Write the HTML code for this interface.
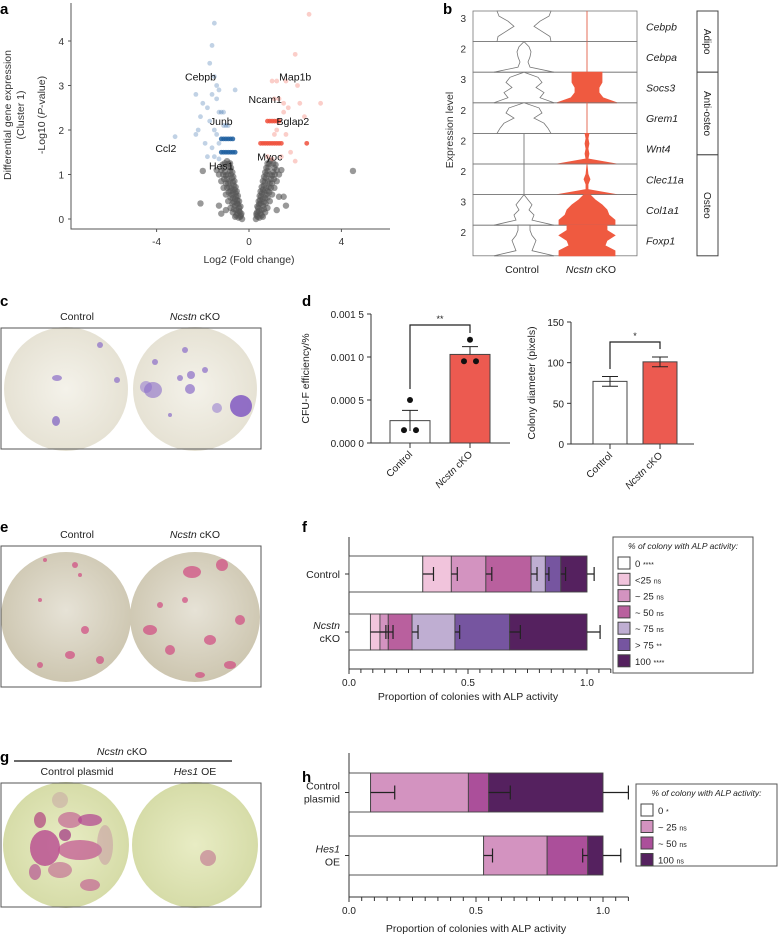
<!DOCTYPE html>
<html><head><meta charset="utf-8"><style>
html,body{margin:0;padding:0;background:#fff}
svg{display:block;font-family:"Liberation Sans",Arial,sans-serif}
</style></head><body>
<svg id="fig" width="778" height="940" viewBox="0 0 778 940" xmlns="http://www.w3.org/2000/svg">
<defs>
<radialGradient id="gc" cx="50%" cy="50%" r="50%"><stop offset="0" stop-color="#f4f2ea"/><stop offset="1" stop-color="#e6e2d4"/></radialGradient>
<radialGradient id="ge" cx="50%" cy="45%" r="55%"><stop offset="0" stop-color="#e6e2d6"/><stop offset="1" stop-color="#cdc6b0"/></radialGradient>
<radialGradient id="gg" cx="50%" cy="50%" r="50%"><stop offset="0" stop-color="#e8ecc4"/><stop offset="1" stop-color="#d6dca8"/></radialGradient>
</defs>
<g id="pa"></g>
<g id="pb"></g>
<g id="pc"></g>
<g id="pd"></g>
<g id="pe"></g>
<g id="pf"></g>
<g id="pg"></g>
<g id="ph"></g>
</svg>
<script>
// ---------- Panel a data ----------
const grayPts=[[-0.3,0],[-0.35,0.08],[-0.4,0.16],[-0.42,0.25],[-0.47,0.33],[-0.5,0.42],[-0.55,0.5],[-0.58,0.58],[-0.62,0.66],[-0.66,0.75],[-0.7,0.83],[-0.74,0.92],[-0.78,1.0],[-0.82,1.08],[-0.86,1.16],[-0.9,1.24],[-0.95,1.3],
[-0.45,0.03],[-0.5,0.12],[-0.56,0.2],[-0.6,0.3],[-0.66,0.38],[-0.7,0.47],[-0.75,0.55],[-0.8,0.63],[-0.85,0.72],[-0.9,0.8],[-0.95,0.9],[-1.0,0.98],[-1.05,1.06],[-1.1,1.15],[-1.15,1.22],
[-0.6,0.05],[-0.7,0.15],[-0.8,0.25],[-0.9,0.4],[-1.0,0.55],[-1.1,0.7],[-1.2,0.85],[-1.3,1.0],[-1.4,1.1],[-0.38,0.05],[-0.44,0.18],[-0.52,0.35],[-0.6,0.45],[-0.68,0.6],[-0.76,0.7],[-0.84,0.85],[-0.92,1.0],
[-0.33,0.12],[-0.37,0.28],[-0.43,0.4],[-0.48,0.52],[-0.53,0.62],[-0.58,0.72],[-0.63,0.85],[-0.68,0.95],[-0.72,1.05],[-0.78,1.15],[-0.82,1.25],[-0.55,0.08],[-0.65,0.22],[-0.72,0.35],[-0.8,0.48],[-0.88,0.6],[-0.95,0.7],[-1.0,0.8],[-1.08,0.9],[-1.12,1.0],[-1.2,1.1],[-1.05,1.25],
[-2.0,1.08],[-2.1,0.35],[-1.3,0.3],[-1.2,0.12],[-1.0,0.2],
[0.3,0],[0.33,0.08],[0.36,0.16],[0.4,0.25],[0.44,0.33],[0.48,0.42],[0.52,0.5],[0.56,0.58],[0.6,0.66],[0.64,0.75],[0.68,0.83],[0.72,0.92],[0.76,1.0],[0.8,1.08],[0.84,1.16],[0.88,1.24],[0.92,1.3],
[0.45,0.03],[0.5,0.12],[0.55,0.2],[0.6,0.3],[0.65,0.38],[0.7,0.47],[0.75,0.55],[0.8,0.63],[0.85,0.72],[0.9,0.8],[0.95,0.9],[1.0,0.98],[1.05,1.06],[1.1,1.15],[1.15,1.22],
[0.6,0.05],[0.7,0.15],[0.8,0.25],[0.9,0.4],[1.0,0.55],[1.1,0.7],[1.2,0.85],[1.3,1.0],[1.4,1.1],[0.38,0.05],[0.43,0.18],[0.5,0.35],[0.58,0.45],[0.66,0.6],[0.74,0.7],[0.82,0.85],[0.9,1.0],
[0.32,0.12],[0.36,0.28],[0.42,0.4],[0.46,0.52],[0.5,0.62],[0.55,0.72],[0.6,0.85],[0.65,0.95],[0.7,1.05],[0.75,1.15],[0.8,1.25],[0.55,0.08],[0.65,0.22],[0.72,0.35],[0.8,0.48],[0.88,0.6],[0.95,0.7],[1.0,0.8],[1.08,0.9],[1.12,1.0],[1.2,1.1],[1.05,1.25],
[1.3,0.5],[1.5,0.5],[1.6,0.3],[1.2,0.2],[4.5,1.08]];
const bluePts=[[-1.2,1.5],[-1.1,1.5],[-1.0,1.5],[-0.9,1.5],[-0.8,1.5],[-0.7,1.5],[-0.6,1.5],[-1.2,1.8],[-1.1,1.8],[-1.0,1.8],[-0.9,1.8],[-0.8,1.8],[-0.7,1.8],[-1.1,2.1],[-1.0,2.1],[-0.9,2.1],[-1.3,2.4],[-1.2,2.4],[-1.1,2.4],
[-1.5,4.4],[-1.6,3.9],[-1.7,3.5],[-1.5,3.2],[-1.4,3.0],[-1.3,2.9],[-1.6,2.8],[-1.4,2.7],[-2.3,2.8],[-2.0,2.6],[-1.8,2.5],[-2.1,2.3],[-1.7,2.2],[-2.2,2.0],[-2.3,1.9],[-1.9,1.7],[-1.6,1.6],[-1.5,1.4],[-1.8,1.4],[-1.3,1.35],[-0.6,2.9],[-1.5,2.0],[-1.4,1.9],[-1.3,1.7],[-3.2,1.85]];
const redPts=[[0.5,1.7],[0.6,1.7],[0.7,1.7],[0.8,1.7],[0.9,1.7],[1.0,1.7],[1.1,1.7],[1.2,1.7],[1.3,1.7],[1.4,1.7],[0.8,2.2],[0.9,2.2],[1.0,2.2],[1.1,2.2],[1.2,2.2],[1.3,2.2],[1.2,2.0],[1.1,1.9],
[2.6,4.6],[2.0,3.7],[1.0,3.1],[1.2,3.1],[1.6,3.1],[2.1,3.0],[1.1,2.7],[1.3,2.7],[1.5,2.6],[2.2,2.6],[3.1,2.6],[1.7,2.5],[1.5,2.4],[2.4,2.3],[1.6,1.9],[2.5,1.7],[1.8,1.5],[1.4,1.4],[1.0,1.35],[0.8,1.4],[2.0,1.3]];
const volcanoLabels=[["Cebpb",-2.1,3.2],["Map1b",2.0,3.2],["Ncam1",0.7,2.7],["Junb",-1.2,2.2],["Bglap2",1.9,2.2],["Ccl2",-3.6,1.6],["Myoc",0.9,1.4],["Hes1",-1.2,1.2]];
const volXTicks=[-4,0,4];
const volYTicks=[0,1,2,3,4];
// ---------- Panel b data ----------
const violinGenes=["Cebpb","Cebpa","Socs3","Grem1","Wnt4","Clec11a","Col1a1","Foxp1"];
const violinYLabels=["3","2","3","2","2","2","3","2"];
const ctrlProfiles=[[27,26,18,10,16,25,27],[30,6,4,6,7,5,0],[30,16,20,12,18,14,0],[27,24,20,10,18,15,0],[0,0,0,0,0,0,0],[0,0,0,0,0,0,0],[30,8,10,5,8,4,0],[30,8,10,12,8,6,6]];
const kdProfiles=[[0,0,0,0,0,0,0],[0,0,0,0,0,0,0],[30,16,12,12,15,15,15],[0,0,0,0,0,0,0],[30,1,2,1,2,1,2],[30,1,1,3,1,0.5,0],[28,28,22,20,15,8,3],[28,28,18,20,28,20,20]];
const violinGroups=[["Adipo",0,2],["Anti-osteo",2,4.7],["Osteo",4.7,8]];
// ---------- Panel d data ----------
const dCats=["Control","Ncstn cKO"];
const cfuMeans=[0.00026,0.00103];
const cfuErr=[0.00012,0.00009];
const cfuPts=[[0.00015,0.00015,0.0005],[0.00095,0.00095,0.0012]];
const cfuTicks=[0,0.0005,0.001,0.0015];
const cfuTickLabels=["0.000 0","0.000 5","0.001 0","0.001 5"];
const diamMeans=[77,101];
const diamErr=[6,6];
const diamTicks=[0,50,100,150];
// ---------- Panel f data ----------
const fRows=["Control","Ncstn cKO"];
const fCum=[[0.31,0.43,0.575,0.765,0.825,0.89,1.0],[0.09,0.13,0.165,0.265,0.445,0.675,1.0]];
const fErr=[[0.355,0.455,0.6,0.79,0.84,0.91,1.03],[0.155,0.165,0.185,0.29,0.465,0.72,1.055]];
const fCats=["0","<25","~ 25","~ 50","~ 75","> 75","100"];
const fSig=["****","ns","ns","ns","ns","**","****"];
const fColors=["#ffffff","#f1c4dc","#d393c0","#b9609e","#bfaed2","#7655a0","#55215f"];
// ---------- Panel h data ----------
const hRows=["Control plasmid","Hes1 OE"];
const hCum=[[0.085,0.47,0.55,1.0],[0.53,0.78,0.94,1.0]];
const hErr=[[0.18,0.47,0.635,1.1],[0.565,0.78,0.92,1.07]];
const hCats=["0","~ 25","~ 50","100"];
const hSig=["*","ns","ns","ns"];
const hColors=["#ffffff","#d393c0","#ab4f9a","#55215f"];
const xTicksProp=[0,0.5,1.0];

const NS="http://www.w3.org/2000/svg";
function mk(p,t,a,txt){const e=document.createElementNS(NS,t);for(const k in a)e.setAttribute(k,a[k]);if(txt!==undefined)e.textContent=txt;p.appendChild(e);return e;}
const G=id=>document.getElementById(id);
function lbl(p,ch,x,y){const t=mk(p,'text',{x:x,y:y,'font-size':15,'font-weight':'bold'},ch);

}

// ===== Panel a =====
(function(){const p=G('pa');lbl(p,'a',0,14);
const xS=v=>249+v*23.1, yS=v=>219-v*44.5;
const ax=mk(p,'path',{d:'M71,3V229H390',stroke:'#555',fill:'none','stroke-width':1});


volXTicks.forEach(v=>{mk(p,'line',{x1:xS(v),x2:xS(v),y1:229,y2:232,stroke:'#555'});
const t=mk(p,'text',{x:xS(v),y:245,'font-size':10,'text-anchor':'middle',fill:'#333'},v);

});
volYTicks.forEach(v=>{mk(p,'line',{x1:68,x2:71,y1:yS(v),y2:yS(v),stroke:'#555'});
const t=mk(p,'text',{x:64,y:yS(v)+4,'font-size':10,'text-anchor':'end',fill:'#333'},v);

});
grayPts.forEach(q=>{const c=mk(p,'circle',{cx:xS(q[0]),cy:yS(q[1]),r:3.2,fill:'#555','fill-opacity':0.6});

});
bluePts.forEach(q=>{const c=mk(p,'circle',{cx:xS(q[0]),cy:yS(q[1]),r:2.4,fill:'#1f5fa0','fill-opacity':q[1]===1.5||q[1]===1.8?0.85:0.28});

});
redPts.forEach(q=>{const c=mk(p,'circle',{cx:xS(q[0]),cy:yS(q[1]),r:2.4,fill:'#f0503c','fill-opacity':q[1]===1.7||q[1]===2.2?0.85:0.28});

});
volcanoLabels.forEach(l=>{const t=mk(p,'text',{x:xS(l[1]),y:yS(l[2])+4,'font-size':10.5,'text-anchor':'middle',fill:'#111'},l[0]);

});
let t=mk(p,'text',{x:249,y:263,'font-size':10.5,'text-anchor':'middle',fill:'#333'},'Log2 (Fold change)');


t=mk(p,'text',{transform:'translate(11,115) rotate(-90)','font-size':10.5,'text-anchor':'middle',fill:'#333'},'Differential gene expression');


t=mk(p,'text',{transform:'translate(24,115) rotate(-90)','font-size':10.5,'text-anchor':'middle',fill:'#333'},'(Cluster 1)');


t=mk(p,'text',{transform:'translate(45,115) rotate(-90)','font-size':10.5,'text-anchor':'middle',fill:'#333'});
t.innerHTML='-Log10 (<tspan font-style="italic">P</tspan>-value)';


})();

// ===== Panel b =====
(function(){const p=G('pb');lbl(p,'b',443,14);
const top=11,rh=30.6,x0=473,x1=637,cx=[524,587];
violinGenes.forEach((g,i)=>{const y0=top+i*rh,yb=y0+rh;
mk(p,'rect',{x:x0,y:y0,width:x1-x0,height:rh,fill:'none',stroke:'#777','stroke-width':0.8});
[[ctrlProfiles[i],cx[0],'#fff','#777'],[kdProfiles[i],cx[1],'#ef5a40','#ef5a40']].forEach(([prof,c,f,s])=>{
const n=prof.length;let r='',l='';
prof.forEach((w,k)=>{const y=yb-k*(rh/(n-1));r+=(k?'L':'M')+(c+w)+','+y;l='L'+(c-w)+','+y+l;});
mk(p,'line',{x1:c,x2:c,y1:y0,y2:yb,stroke:'#999','stroke-width':0.6});
const v=mk(p,'path',{d:r+l+'Z',fill:f,stroke:s,'stroke-width':0.8});

});
let t=mk(p,'text',{x:466,y:y0+11,'font-size':10,'text-anchor':'end',fill:'#333'},violinYLabels[i]);


t=mk(p,'text',{x:646,y:y0+rh/2+4,'font-size':10.5,'font-style':'italic',fill:'#222'},g);

});
violinGroups.forEach(gr=>{const ya=top+gr[1]*rh,yb=top+gr[2]*rh;
mk(p,'rect',{x:697,y:ya,width:21,height:yb-ya,fill:'#fff',stroke:'#444','stroke-width':1});
const t=mk(p,'text',{transform:`translate(704,${(ya+yb)/2}) rotate(90)`,'font-size':10,'text-anchor':'middle',fill:'#222'},gr[0]);

});
let t=mk(p,'text',{transform:'translate(453,130) rotate(-90)','font-size':10.5,'text-anchor':'middle',fill:'#333'},'Expression level');


t=mk(p,'text',{x:522,y:273,'font-size':10.5,'text-anchor':'middle',fill:'#222'},'Control');


t=mk(p,'text',{x:591,y:273,'font-size':10.5,'text-anchor':'middle',fill:'#222'});t.innerHTML='<tspan font-style="italic">Ncstn</tspan> cKO';


})();

// ===== Photo panels =====
function photo(pid,ch,labY,boxY,boxH,circY,r,grad,t1,t2,spots){const p=G(pid);lbl(p,ch,0,labY);
let t=mk(p,'text',{x:77,y:boxY-8,'font-size':10.5,'text-anchor':'middle',fill:'#222'});t.innerHTML=t1;


t=mk(p,'text',{x:195,y:boxY-8,'font-size':10.5,'text-anchor':'middle',fill:'#222'});t.innerHTML=t2;


const b=mk(p,'rect',{x:1,y:boxY,width:260,height:boxH,fill:'#fff',stroke:'#555','stroke-width':1});


[66,195].forEach(cx=>{const c=mk(p,'circle',{cx:cx,cy:circY,r:r,fill:`url(#${grad})`});

});
spots.forEach(s=>{mk(p,'ellipse',{cx:s[0],cy:s[1],rx:s[2],ry:s[3]||s[2],fill:s[4],'fill-opacity':s[5]||0.7});});
mk(p,'rect',{x:1,y:boxY,width:260,height:boxH,fill:'none',stroke:'#555','stroke-width':1});}
photo('pc','c',306,328,121,389,62,'gc','Control','<tspan font-style="italic">Ncstn</tspan> cKO',
[[100,345,3,3,'#8a6cc8'],[57,378,5,3,'#8a6cc8'],[117,380,3,3,'#8a6cc8'],[56,421,4,5,'#7a5cc0'],[146,387,6,6,'#9a80d0',0.6],[153,390,9,8,'#8a6cc8',0.6],[185,350,3,3,'#8a6cc8'],[191,375,4,4,'#8a6cc8'],[190,389,5,5,'#8a6cc8'],[217,408,5,5,'#9a80d0',0.6],[241,406,11,11,'#7a50c0',0.8],[180,378,3,3,'#8a6cc8'],[155,362,3,3,'#8a6cc8'],[205,370,3,3,'#8a6cc8'],[170,415,2,2,'#8a6cc8']]);
photo('pe','e',532,546,141,617,65,'ge','Control','<tspan font-style="italic">Ncstn</tspan> cKO',
[[45,560,2,2,'#d04880'],[75,565,3,3,'#d04880'],[80,575,2,2,'#d04880'],[40,600,2,2,'#d04880'],[85,630,4,4,'#d04880'],[70,655,5,4,'#d04880'],[40,665,3,3,'#d04880'],[100,660,4,4,'#d04880'],
[192,572,9,6,'#d04880'],[222,565,6,6,'#d04880'],[150,630,7,5,'#d04880'],[170,650,5,5,'#d04880'],[210,640,6,5,'#d04880'],[240,620,5,5,'#d04880'],[185,600,3,3,'#d04880'],[230,665,6,4,'#d04880'],[160,605,3,3,'#d04880'],[200,675,5,3,'#d04880']]);
photo('pg','g',762,783,124,845,63,'gg','Control plasmid','<tspan font-style="italic">Hes1</tspan> OE',
[[40,820,6,8,'#b0407f'],[70,820,12,8,'#c05090',0.6],[90,820,12,6,'#b04090'],[45,848,15,18,'#b84890',0.8],[80,850,22,10,'#c05090',0.7],[65,835,6,6,'#a03080'],[60,870,12,8,'#c06090',0.6],[90,885,10,6,'#c05090',0.6],[105,845,8,20,'#c080a0',0.4],[35,872,6,8,'#b04090',0.6],[60,800,8,8,'#c090a0',0.4],
[208,858,8,8,'#c07090',0.6]]);
(function(){const p=G('pg');let t=mk(p,'text',{x:122,y:755,'font-size':10.5,'text-anchor':'middle',fill:'#222'});t.innerHTML='<tspan font-style="italic">Ncstn</tspan> cKO';


mk(p,'line',{x1:14,x2:232,y1:761,y2:761,stroke:'#111','stroke-width':1.2});})();

// ===== Panel d =====
(function(){const p=G('pd');lbl(p,'d',302,306);
function bars(axX,yTop,yBot,axEnd,ticks,tlab,means,err,pts,barX,bw,yMax,stars,brY,title,titleX){
const yS=v=>yBot-(v/yMax)*(yBot-yTop);
mk(p,'path',{d:`M${axX},${yTop}V${yBot}H${axEnd}`,stroke:'#333',fill:'none'});
ticks.forEach((v,i)=>{mk(p,'line',{x1:axX-4,x2:axX,y1:yS(v),y2:yS(v),stroke:'#333'});
const t=mk(p,'text',{x:axX-7,y:yS(v)+4,'font-size':10,'text-anchor':'end',fill:'#222'},tlab[i]);

});
means.forEach((m,i)=>{const x=barX[i],c=x+bw/2;
const r=mk(p,'rect',{x:x,y:yS(m),width:bw,height:yBot-yS(m),fill:i?'#ec5a50':'#fff',stroke:'#444','stroke-width':1});


mk(p,'path',{d:`M${c},${yS(m-(i&&pts?0:err[i]))}V${yS(m+err[i])}M${c-8},${yS(m+err[i])}H${c+8}`+(pts?'':`M${c-8},${yS(m-err[i])}H${c+8}`),stroke:'#222',fill:'none'});
mk(p,'line',{x1:c,x2:c,y1:yBot,y2:yBot+5,stroke:'#333'});
if(pts){const seen={};pts[i].forEach(v=>{const k=v;seen[k]=(seen[k]||0)+1;});
Object.keys(seen).forEach(k=>{const n=seen[k];for(let j=0;j<n;j++){const d=mk(p,'circle',{cx:c+(n>1?(j-0.5)*12:0),cy:yS(+k),r:3,fill:'#111'});

}});}
let t=mk(p,'text',{transform:`translate(${c+3},${yBot+12}) rotate(-45)`,'font-size':10,'text-anchor':'end',fill:'#222'});
t.innerHTML=i?'<tspan font-style="italic">Ncstn</tspan> cKO':'Control';

});
const c0=barX[0]+bw/2,c1=barX[1]+bw/2;
mk(p,'path',{d:`M${c0},${stars[1]}V${brY}H${c1}V${stars[2]}`,stroke:'#222',fill:'none','stroke-width':1.2});
let t=mk(p,'text',{x:(c0+c1)/2,y:brY-3,'font-size':9,'text-anchor':'middle',fill:'#222'},stars[0]);


t=mk(p,'text',{transform:`translate(${titleX},${(yTop+yBot)/2}) rotate(-90)`,'font-size':10.5,'text-anchor':'middle',fill:'#222'},title);

}
bars(371,314,443,510,cfuTicks,cfuTickLabels,cfuMeans,cfuErr,cfuPts,[390,450],40,0.0015,['**',389,333],325,'CFU-F efficiency/%',309);
bars(571,322,444,694,diamTicks,diamTicks.map(String),diamMeans,diamErr,null,[593,643],34,150,['*',369,349],342,'Colony diameter (pixels)',535);
})();

// ===== Stacked bars =====
function stacked(pid,ch,labY,axX,yTop,yBot,unit,maxV,rowsY,bh,cum,err,colors,rowLab,legend,xTitleY){
const p=G(pid);lbl(p,ch,302,labY);const xS=v=>axX+v*unit;
mk(p,'path',{d:`M${axX},${yTop}V${yBot}H${xS(maxV)}`,stroke:'#333',fill:'none'});
for(let v=0;v<=maxV+1e-9;v+=0.05){const maj=Math.abs(v*2-Math.round(v*2))<1e-6;mk(p,'line',{x1:xS(v),x2:xS(v),y1:yBot,y2:yBot+(maj?5:4),stroke:'#333'});}
xTicksProp.forEach(v=>{const t=mk(p,'text',{x:xS(v),y:yBot+17,'font-size':10,'text-anchor':'middle',fill:'#222'},v.toFixed(1));

});
cum.forEach((row,i)=>{const y=rowsY[i];let prev=0;
row.forEach((v,k)=>{const r=mk(p,'rect',{x:xS(prev),y:y,width:xS(v)-xS(prev),height:bh,fill:colors[k],stroke:'#444','stroke-width':0.9});

prev=v;});
row.forEach((v,k)=>{const e=err[i][k];if(Math.abs(e-v)<1e-6)return;const c=y+bh/2;
mk(p,'path',{d:`M${xS(v)},${c}H${xS(e)}M${xS(e)},${c-7}V${c+7}`,stroke:'#222','stroke-width':1.2,fill:'none'});});
mk(p,'line',{x1:axX-4,x2:axX,y1:y+bh/2,y2:y+bh/2,stroke:'#333'});
const t=mk(p,'text',{x:axX-9,y:y+bh/2+(rowLab[i].length>1?-3:4),'font-size':10.5,'text-anchor':'end',fill:'#222'});
t.innerHTML=rowLab[i].map((s,j)=>`<tspan x="${axX-9}" dy="${j?13:0}">${s}</tspan>`).join('');

});
let t=mk(p,'text',{x:xS(0.5),y:xTitleY,'font-size':10.5,'text-anchor':'middle',fill:'#222'},'Proportion of colonies with ALP activity');


const L=legend;const lg=mk(p,'g',{});


mk(lg,'rect',{x:L.x,y:L.y,width:L.w,height:L.h,fill:'#fff',stroke:'#555','stroke-width':1});
mk(lg,'text',{x:L.x+L.w/2,y:L.y+12,'font-size':8.5,'font-style':'italic','text-anchor':'middle',fill:'#222'},'% of colony with ALP activity:');
L.cats.forEach((c,k)=>{const yy=L.y+20+k*L.step;
const s=mk(lg,'rect',{x:L.x+5,y:yy,width:12,height:12,fill:colors[k],stroke:'#444'});


const tt=mk(lg,'text',{x:L.x+22,y:yy+10,'font-size':9.5,fill:'#222'});
tt.innerHTML=c+' <tspan font-size="7">'+L.sig[k]+'</tspan>';

});}
stacked('pf','f',532,349,537,669,238,1.1,[556,614],36,fCum,fErr,fColors,[["Control"],["<tspan font-style='italic'>Ncstn</tspan>","cKO"]],
{x:613,y:537,w:140,h:136,step:16.3,cats:fCats,sig:fSig},700);
stacked('ph','h',782,349,753,897,254,1.1,[773,836],39,hCum,hErr,hColors,[["Control","plasmid"],["<tspan font-style='italic'>Hes1</tspan>","OE"]],
{x:636,y:784,w:141,h:82,step:16.5,cats:hCats,sig:hSig},932);
</script>
</body></html>
